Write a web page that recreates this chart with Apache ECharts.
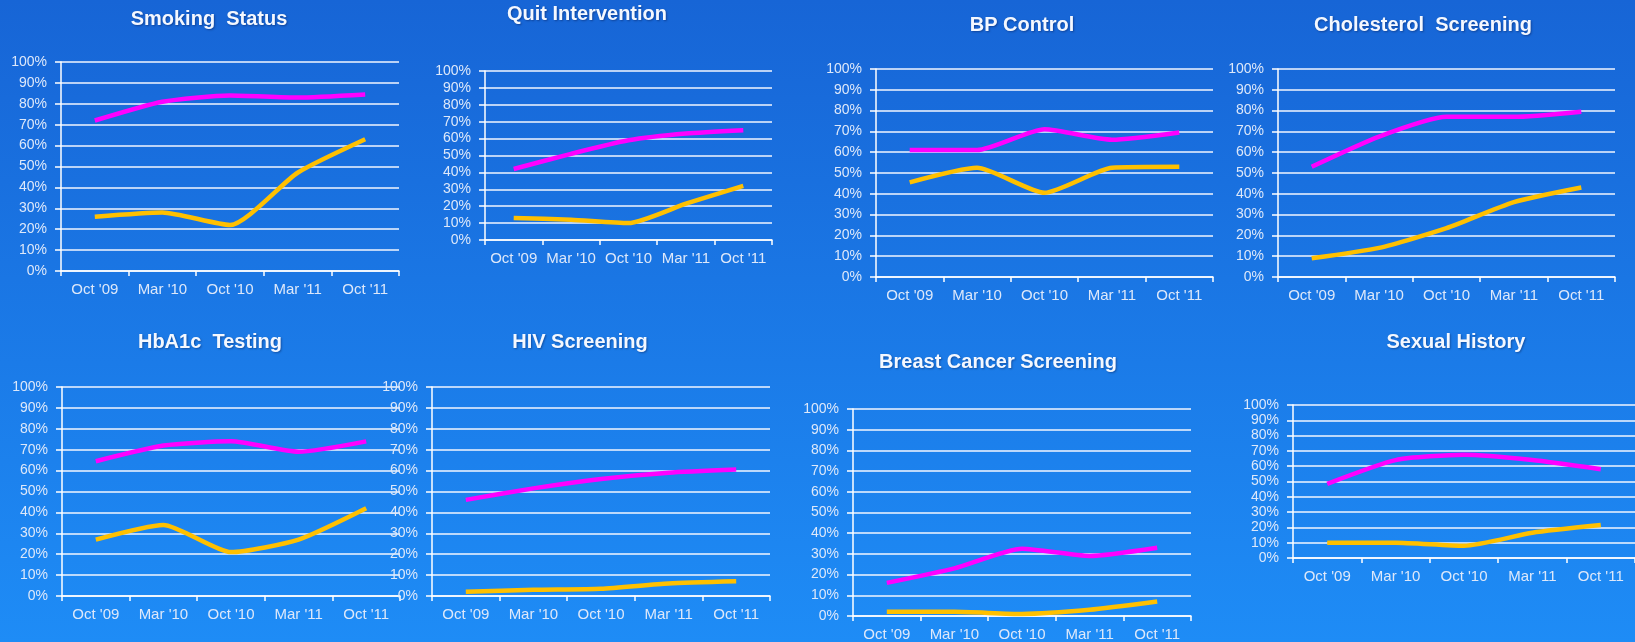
<!DOCTYPE html>
<html>
<head>
<meta charset="utf-8">
<script src="https://cdn.jsdelivr.net/npm/echarts@6/dist/echarts.min.js"></script>
<style>
  html, body { margin: 0; padding: 0; }
  #main { width: 1635px; height: 642px; }
</style>
</head>
<body>
<div id="main"></div>
<script type="text/javascript">
var categories = ["Oct '09", "Mar '10", "Oct '10", "Mar '11", "Oct '11"];
var yTicks = [0, 100, 10]; // min, max, interval

var titles = ['Smoking  Status', 'Quit Intervention', 'BP Control', 'Cholesterol  Screening',
              'HbA1c  Testing', 'HIV Screening', 'Breast Cancer Screening', 'Sexual History'];

// magenta (pink) line per panel
var smokingPink = [72, 81, 84, 83, 84.5];
var quitPink = [42, 51, 59, 63, 65];
var bpPink = [61, 61, 71, 66, 69.5];
var cholPink = [53, 67.5, 77, 77, 79.5];
var hba1cPink = [64.5, 72, 74, 69, 74];
var hivPink = [46, 51.5, 56, 59, 60.5];
var breastPink = [16, 23, 32.5, 29, 33];
var sexualPink = [48.5, 64, 67.5, 64, 58];

// gold line per panel
var smokingGold = [26, 28, 22, 47, 63];
var quitGold = [13, 12, 10, 21.5, 32];
var bpGold = [45.5, 52.5, 40.5, 52.5, 53];
var cholGold = [9, 14, 23.5, 36, 43];
var hba1cGold = [27, 34, 21, 27, 42];
var hivGold = [2, 3, 3.5, 6, 7];
var breastGold = [2, 2, 1, 3, 7];
var sexualGold = [10, 10, 8, 16.5, 21.5];

var pinkSets = [smokingPink, quitPink, bpPink, cholPink, hba1cPink, hivPink, breastPink, sexualPink];
var goldSets = [smokingGold, quitGold, bpGold, cholGold, hba1cGold, hivGold, breastGold, sexualGold];

// layout of each small chart: [left, top, width, height, titleX, titleY]
var boxes = [
  [61, 62, 338, 209, 209, 20],
  [485, 71, 287, 169, 587, 15],
  [876, 69, 337, 208, 1022, 26],
  [1278, 69, 337, 208, 1423, 26],
  [62, 387, 338, 209, 210, 343],
  [432, 387, 338, 209, 580, 343],
  [853, 409, 338, 207, 998, 363],
  [1293, 405, 347, 153, 1456, 343]
];

var chart = echarts.init(document.getElementById('main'));

var grid = [], xAxis = [], yAxis = [], series = [], title = [];
var labelColor = '#dde8fa';
var font = 'Liberation Sans, Arial';

boxes.forEach(function (b, i) {
  grid.push({ left: b[0], top: b[1], width: b[2], height: b[3], containLabel: false });
  title.push({
    text: titles[i], left: b[4], top: b[5] - 11, textAlign: 'center', padding: 0,
    textStyle: { color: '#f4f8ff', fontSize: 20, fontWeight: 'bold', fontFamily: font,
                 textShadowColor: 'rgba(0,0,40,0.35)', textShadowBlur: 2, textShadowOffsetX: 1, textShadowOffsetY: 1 }
  });
  xAxis.push({
    type: 'category', gridIndex: i, data: categories, boundaryGap: true,
    axisLine: { lineStyle: { color: '#ffffff', width: 1.5 } },
    axisTick: { show: true, length: 5, lineStyle: { color: '#ffffff', width: 1.5 } },
    axisLabel: { color: labelColor, fontSize: 15, margin: 11, fontFamily: font, interval: 0 },
    splitLine: { show: false }
  });
  yAxis.push({
    type: 'value', gridIndex: i, min: yTicks[0], max: yTicks[1], interval: yTicks[2],
    axisLine: { show: true, lineStyle: { color: '#ffffff', width: 1.5 } },
    axisTick: { show: true, length: 6, lineStyle: { color: '#ffffff', width: 1.5 } },
    axisLabel: { color: labelColor, fontSize: 14, margin: 14, formatter: '{value}%', fontFamily: font },
    splitLine: { show: true, lineStyle: { color: '#f2f6ff', width: 1.5 } }
  });
  series.push({
    type: 'line', xAxisIndex: i, yAxisIndex: i, data: pinkSets[i], smooth: 0.2,
    symbol: 'none', lineStyle: { color: '#ff00ff', width: 4.5 }, z: 3
  });
  series.push({
    type: 'line', xAxisIndex: i, yAxisIndex: i, data: goldSets[i], smooth: 0.2,
    symbol: 'none', lineStyle: { color: '#ffc000', width: 4.5 }, z: 3
  });
});

var option = {
  animation: false,
  backgroundColor: {
    type: 'linear', x: 0, y: 0, x2: 0, y2: 1,
    colorStops: [{ offset: 0, color: '#1765d6' }, { offset: 1, color: '#1e8cf6' }]
  },
  title: title,
  grid: grid,
  xAxis: xAxis,
  yAxis: yAxis,
  series: series
};
chart.setOption(option);
</script>
</body>
</html>
